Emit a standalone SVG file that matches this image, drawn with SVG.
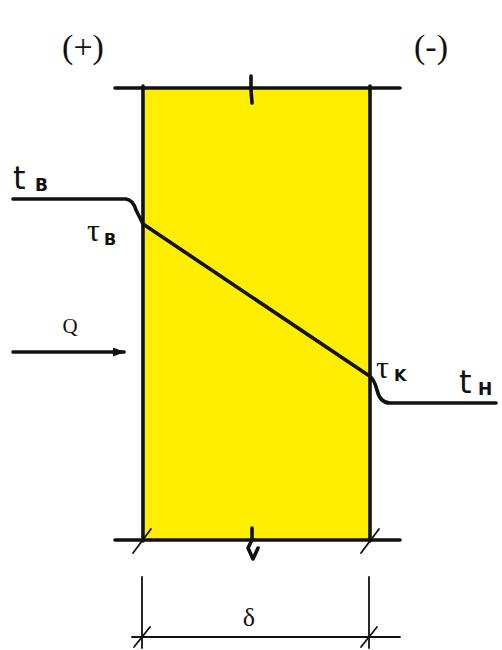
<svg xmlns="http://www.w3.org/2000/svg" width="502" height="650" viewBox="0 0 502 650">
<style>
.ln{fill:none;stroke:#111;stroke-width:3.6;stroke-linecap:round;stroke-linejoin:round}
.th{fill:none;stroke:#111;stroke-width:1.8;stroke-linecap:round}
.tx{font-family:"Liberation Serif",serif;fill:#111}
.hw{font-family:"DejaVu Sans",sans-serif;fill:#111}
</style>
<defs>
<marker id="ah" markerWidth="12" markerHeight="9" refX="11" refY="4.5" orient="auto" markerUnits="userSpaceOnUse">
<path d="M0,0 L12,4.5 L0,9 Z" fill="#111"/>
</marker>
</defs>
<rect width="502" height="650" fill="#fff"/>
<g id="wall">
<rect x="145" y="89" width="224" height="450" fill="#FFEE00"/>
<line class="ln" x1="143" y1="86" x2="143" y2="541"/>
<line class="ln" x1="370" y1="86" x2="370" y2="541"/>
<line class="ln" x1="115" y1="88" x2="400" y2="88"/>
<line class="ln" x1="115" y1="540" x2="400" y2="540"/>
<path class="ln" d="M251,76 L251,90 L252,103"/>
<path class="ln" d="M252,528 L252,540 L248,548 L253,559 L258,548"/>
<line class="th" x1="133" y1="553" x2="151" y2="529"/>
<line class="th" x1="361" y1="553" x2="379" y2="529"/>
</g>
<g id="dimension">
<line class="th" x1="142" y1="577" x2="142" y2="648"/>
<line class="th" x1="369" y1="577" x2="369" y2="648"/>
<line class="th" x1="132" y1="637" x2="400" y2="637"/>
<line class="th" x1="134" y1="647" x2="150" y2="627"/>
<line class="th" x1="361" y1="647" x2="377" y2="627"/>
<text class="tx" x="249" y="626" font-size="26" text-anchor="middle">δ</text>
</g>
<g id="labels">
<text class="tx" x="83" y="58" font-size="34" text-anchor="middle">(+)</text>
<text class="tx" x="431" y="58" font-size="34" text-anchor="middle">(-)</text>
<text class="hw" x="13" y="189" font-size="32">t</text>
<text class="hw" x="35" y="191" font-size="17" font-weight="bold">B</text>
<text class="tx" x="87" y="241" font-size="32">τ</text>
<text class="hw" x="104" y="245" font-size="16" font-weight="bold">B</text>
<text class="tx" x="376" y="378" font-size="32">τ</text>
<text class="hw" x="394" y="381" font-size="16" font-weight="bold">K</text>
<text class="hw" x="459" y="393" font-size="32">t</text>
<text class="hw" x="478" y="395" font-size="17" font-weight="bold">H</text>
<text class="tx" x="70" y="333" font-size="21" text-anchor="middle">Q</text>
</g>
<g id="connectors">
<path class="ln" d="M13,199 L126,199 Q133,200 136,210 L143,224 L368,375 Q374,378 377,390 Q380,403 390,403 L496,403"/>
<line class="ln" x1="13" y1="352" x2="124" y2="352" marker-end="url(#ah)"/>
</g>
</svg>
